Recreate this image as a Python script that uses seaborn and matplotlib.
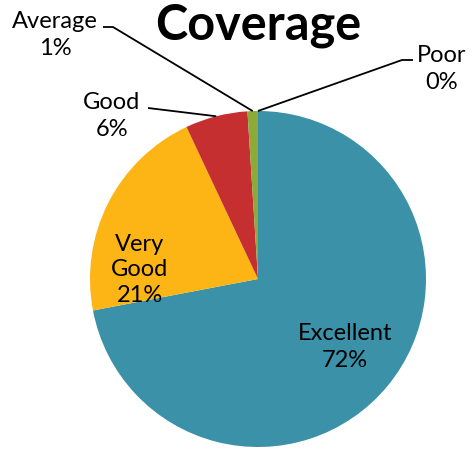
import numpy as np
import matplotlib
matplotlib.use("Agg")
import matplotlib.pyplot as plt
import seaborn as sns

# --- Data ---
categories = ["Excellent", "Very Good", "Good", "Average", "Poor"]
values = [72, 21, 6, 1, 0]
pct_labels = ["72%", "21%", "6%", "1%", "0%"]
colors = ["#3A91A8", "#FDB515", "#C62F2F", "#8BAA37", "#7E5AA0"]

sns.set_style("white")
plt.rcParams["font.family"] = ["Lato", "DejaVu Sans"]
plt.rcParams["text.color"] = "black"

fig = plt.figure(figsize=(4.72, 4.51), dpi=100)
ax = fig.add_axes([90 / 472, 4 / 451, 336 / 472, 336 / 451])

wedges, _ = ax.pie(values, colors=colors, startangle=90, counterclock=False,
                   wedgeprops=dict(linewidth=0))
ax.set_aspect("equal")
ax.set_xlim(-1, 1)
ax.set_ylim(-1, 1)
ax.axis("off")


def px(x, y):
    # pixel in the picture -> data coords of the pie axes
    return (x - 258) / 168, (279 - y) / 168


def edge_point(w):
    ang = np.deg2rad((w.theta1 + w.theta2) / 2)
    return np.cos(ang), np.sin(ang)


fs = 17
# labels inside the pie
tx, ty = px(345, 347)
ax.text(tx, ty, f"{categories[0]}\n{pct_labels[0]}", ha="center", va="center",
        fontsize=fs, linespacing=1.3)
tx, ty = px(140, 270)
ax.text(tx, ty, "Very\nGood\n" + pct_labels[1], ha="center", va="center",
        fontsize=fs, linespacing=1.25)

# labels outside with leader lines
outside = [
    (2, (112, 116), [(148, 108)]),
    (3, (55, 35), [(103, 27), (113, 27)]),
    (4, (442, 69), [(413, 60), (402, 60)]),
]
for i, (lx, ly), pts in outside:
    tx, ty = px(lx, ly)
    ax.text(tx, ty, f"{categories[i]}\n{pct_labels[i]}", ha="center", va="center",
            fontsize=fs, linespacing=1.3)
    ex, ey = edge_point(wedges[i])
    xs = [px(*p)[0] for p in pts] + [ex]
    ys = [px(*p)[1] for p in pts] + [ey]
    ax.plot(xs, ys, color="black", lw=1.3, clip_on=False, solid_capstyle="butt")

fig.text(258 / 472, 1 - 26 / 451, "Coverage", ha="center", va="center",
         fontsize=35, fontweight="bold")

fig.savefig("out.png", dpi=100)
